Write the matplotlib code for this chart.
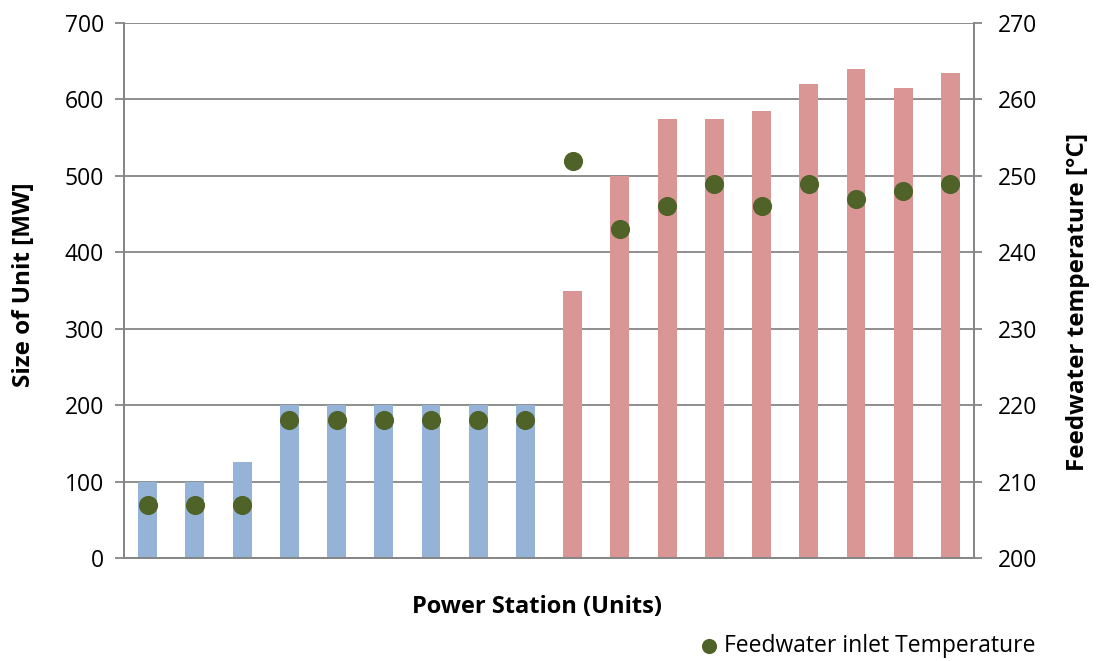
import matplotlib
matplotlib.use("Agg")
import matplotlib.pyplot as plt
import numpy as np

plt.rcParams['font.family'] = ['Open Sans', 'DejaVu Sans']

# Unit sizes (MW) for each power station unit
unit_size_mw = [100, 100, 125, 200, 200, 200, 200, 200, 200,
                350, 500, 575, 575, 585, 620, 640, 615, 635]
# Feedwater inlet temperature (°C) for each unit
feedwater_temp_c = [207, 207, 207, 218, 218, 218, 218, 218, 218,
                    252, 243, 246, 249, 246, 249, 247, 248, 249]
# Older units drawn in blue, newer ones in red
unit_group = ['old'] * 9 + ['new'] * 9

group_colors = {'old': '#95B3D7', 'new': '#D99694'}
dot_color = '#4F6228'
grid_color = '#868686'

W, H = 1099, 661
fig = plt.figure(figsize=(W / 100, H / 100), dpi=100)
ax = fig.add_axes([124 / W, (H - 558) / H, (974 - 124) / W, (558 - 23) / H])

x = np.arange(len(unit_size_mw))
ax.bar(x, unit_size_mw, width=0.4,
       color=[group_colors[g] for g in unit_group], zorder=2)
ax.set_xlim(-0.5, len(unit_size_mw) - 0.5)
ax.set_ylim(0, 700)
ax.set_yticks(range(0, 701, 100))
ax.set_xticks([])
ax.yaxis.grid(True, color=grid_color, linewidth=1.3, zorder=0)
ax.set_axisbelow(True)
ax.tick_params(axis='y', length=6.5, width=1.3, color=grid_color,
               labelsize=16.5, pad=8)
ax.spines['top'].set_visible(False)
for side in ['left', 'right', 'bottom']:
    ax.spines[side].set_color(grid_color)
    ax.spines[side].set_linewidth(1.3)

ax2 = ax.twinx()
ax2.set_ylim(200, 270)
ax2.set_yticks(range(200, 271, 10))
ax2.tick_params(axis='y', length=6, width=1.3, color=grid_color,
                labelsize=16.5, pad=11)
ax2.spines['top'].set_visible(False)
for side in ['left', 'right', 'bottom']:
    ax2.spines[side].set_color(grid_color)
    ax2.spines[side].set_linewidth(1.3)
ax2.scatter(x, feedwater_temp_c, s=190, color=dot_color, zorder=3,
            label='Feedwater inlet Temperature', linewidths=0)

fig.text(537 / W, 1 - 607 / H, 'Power Station (Units)', ha='center',
         va='center', fontsize=17, fontweight='bold')
fig.text(24 / W, 1 - 285 / H, 'Size of Unit [MW]', ha='center',
         va='center', rotation=90, fontsize=17.5, fontweight='bold')
fig.text(1078 / W, 1 - 302 / H, 'Feedwater temperature [°C]', ha='center',
         va='center', rotation=90, fontsize=17.5, fontweight='bold')

leg = ax2.legend(loc='center left', bbox_to_anchor=(700 / W, 1 - 646 / H),
                 bbox_transform=fig.transFigure, frameon=False,
                 fontsize=16.5, handlelength=0.8, handletextpad=0.25,
                 markerscale=0.79, borderpad=0, borderaxespad=0)

fig.savefig('out.png', dpi=100)
